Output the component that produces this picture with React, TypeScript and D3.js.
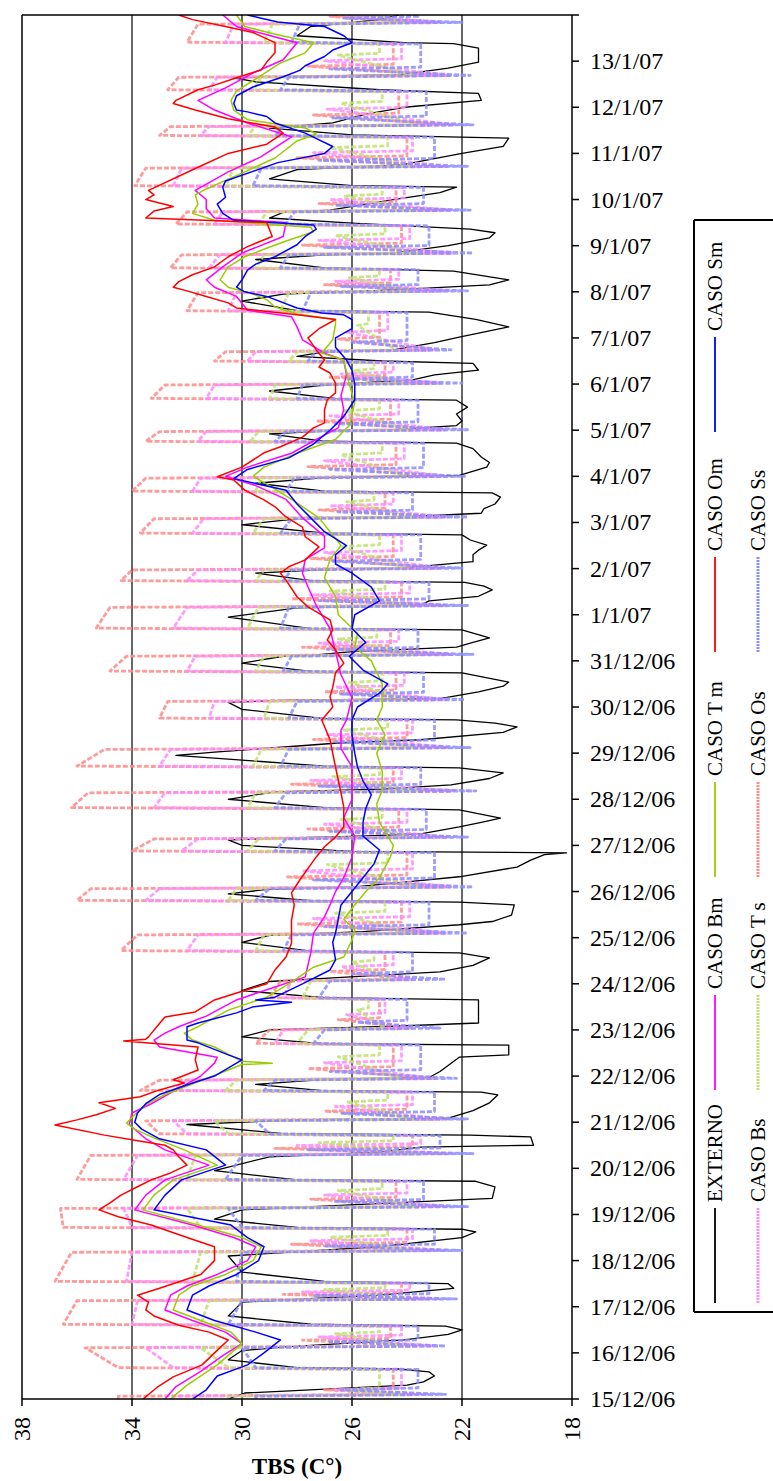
import React from "react";
import * as d3 from "d3";

// ---- data (days since 15/12/06 00:00, TBS in °C) ----
const externo: [number, number][] = [[0.00,30.5],[0.13,29.9],[0.30,24.0],[0.37,23.4],[0.50,23.0],[0.59,23.2],[0.65,24.3],[0.68,28.0],[0.85,30.5],[1.05,30.0],[1.13,28.4],[1.28,24.1],[1.40,22.5],[1.50,22.0],[1.58,22.6],[1.62,27.5],[1.80,30.5],[2.10,30.0],[2.25,25.0],[2.40,22.3],[2.50,22.5],[2.55,27.0],[2.75,30.0],[3.10,30.5],[3.30,25.0],[3.50,22.0],[3.62,21.5],[3.68,22.0],[3.72,28.0],[3.90,31.0],[4.10,30.0],[4.25,24.5],[4.35,20.9],[4.60,20.8],[4.72,21.5],[4.75,28.0],[4.95,31.0],[5.25,29.0],[5.35,25.0],[5.46,23.5],[5.50,19.4],[5.68,19.5],[5.72,21.7],[5.75,28.5],[5.95,32.0],[6.05,28.0],[6.09,22.5],[6.25,21.6],[6.42,21.0],[6.59,20.7],[6.65,21.3],[6.68,27.0],[6.82,29.5],[6.93,27.0],[6.97,23.2],[7.10,22.8],[7.41,22.1],[7.46,20.3],[7.67,20.3],[7.70,27.0],[7.85,30.0],[8.00,29.0],[8.08,24.5],[8.15,21.4],[8.65,21.4],[8.70,27.0],[8.85,30.0],[9.05,29.0],[9.13,26.7],[9.26,22.8],[9.40,21.6],[9.56,21.0],[9.67,22.1],[9.71,27.5],[9.90,30.0],[10.05,29.0],[10.13,25.6],[10.28,22.1],[10.35,20.9],[10.49,20.2],[10.71,20.1],[10.77,22.1],[10.80,27.5],[10.95,30.5],[11.05,29.0],[11.10,25.9],[11.20,24.2],[11.32,22.1],[11.53,20.0],[11.68,19.5],[11.80,19.0],[11.84,18.2],[11.87,26.0],[12.00,30.0],[12.12,30.5],[12.16,28.2],[12.20,25.7],[12.25,23.5],[12.40,22.1],[12.50,21.3],[12.59,20.6],[12.77,22.1],[12.82,27.0],[13.00,30.5],[13.16,28.8],[13.22,24.9],[13.31,22.4],[13.45,21.0],[13.57,20.5],[13.68,22.1],[13.72,27.0],[13.95,32.4],[14.02,31.0],[14.22,26.5],[14.29,23.5],[14.45,20.5],[14.57,20.0],[14.65,20.8],[14.72,22.2],[14.75,27.0],[14.95,30.0],[15.10,30.5],[15.15,28.2],[15.18,22.8],[15.33,21.4],[15.45,20.5],[15.54,20.3],[15.74,22.0],[15.77,27.5],[15.95,30.0],[16.10,28.5],[16.13,27.3],[16.20,26.0],[16.30,22.2],[16.40,21.6],[16.50,21.0],[16.60,21.6],[16.67,22.0],[16.70,27.5],[16.95,30.5],[17.15,28.0],[17.21,23.5],[17.30,23.2],[17.40,21.4],[17.54,20.9],[17.62,21.2],[17.70,21.9],[17.74,27.5],[17.90,29.5],[17.98,27.0],[18.01,24.4],[18.05,23.5],[18.15,21.6],[18.30,21.6],[18.40,21.4],[18.51,21.1],[18.62,21.7],[18.73,22.0],[18.77,27.0],[18.95,30.0],[19.08,28.0],[19.12,24.2],[19.20,21.3],[19.30,21.2],[19.40,20.8],[19.55,20.6],[19.64,20.9],[19.68,27.0],[19.85,29.5],[19.97,27.0],[20.00,24.8],[20.02,22.1],[20.20,21.1],[20.30,21.0],[20.42,21.3],[20.60,21.6],[20.72,22.2],[20.76,27.0],[20.92,29.0],[20.98,27.0],[21.00,24.8],[21.10,22.2],[21.20,22.0],[21.35,22.2],[21.50,21.8],[21.65,22.2],[21.68,26.5],[21.85,29.0],[21.98,27.0],[22.09,23.8],[22.20,23.0],[22.30,21.4],[22.45,21.6],[22.50,24.9],[22.60,28.0],[22.70,27.0],[22.74,24.5],[22.90,23.0],[23.02,22.1],[23.24,20.3],[23.40,21.5],[23.56,23.2],[23.59,28.0],[23.80,30.0],[23.95,28.5],[24.04,24.5],[24.15,21.0],[24.26,20.3],[24.45,22.3],[24.52,27.0],[24.70,29.5],[24.80,27.0],[24.84,24.5],[25.00,22.5],[25.17,21.0],[25.28,20.8],[25.36,21.7],[25.49,26.0],[25.60,29.0],[25.72,28.5],[25.77,26.8],[26.00,24.5],[26.15,22.8],[26.27,22.2],[26.30,26.0],[26.45,29.0],[26.65,28.0],[26.75,24.2],[27.00,22.0],[27.15,20.5],[27.33,20.3],[27.40,26.0],[27.55,29.0],[27.66,26.7],[27.85,25.5],[28.00,24.1],[28.15,21.3],[28.30,21.4],[28.38,25.0],[28.55,29.5],[28.64,30.3],[28.68,27.0],[28.70,24.3],[28.85,22.5],[28.98,21.4],[29.28,21.4],[29.38,22.3],[29.40,24.1],[29.55,28.0],[29.75,27.5],[29.90,25.0],[30.00,24.3]];

const casoOm: [number, number][] = [[0,33.6],[0.27,33.05],[0.48,32.5],[0.74,31.45],[1.0,31.0],[1.28,30.5],[1.45,31.2],[1.6,32.3],[1.8,33.2],[1.93,33.5],[2.1,33.4],[2.25,33.8],[2.4,33.0],[2.7,31.5],[3.0,31.0],[3.3,31.0],[3.5,32.0],[3.77,33.3],[3.95,34.5],[4.1,35.2],[4.25,34.8],[4.42,34.4],[4.6,33.8],[4.75,33.3],[4.9,32.6],[5.07,32.0],[5.25,32.3],[5.4,32.5],[5.5,32.8],[5.61,33.9],[5.72,35.0],[5.94,36.8],[6.05,36.0],[6.16,35.3],[6.3,34.6],[6.42,35.2],[6.55,33.7],[6.7,33.0],[6.85,32.1],[6.92,32.5],[7.13,31.6],[7.35,31.7],[7.63,31.6],[7.72,33.5],[7.76,34.3],[7.8,33.5],[7.85,33.4],[8.07,33.1],[8.28,32.8],[8.39,31.7],[8.65,31.0],[8.8,30.2],[9.0,29.1],[9.3,28.8],[9.58,28.4],[9.88,28.2],[10.38,28.2],[10.71,28.1],[10.97,28.2],[11.25,27.9],[11.75,27.3],[11.97,27.0],[12.18,26.6],[12.4,26.3],[12.83,26.3],[13.14,26.4],[13.7,26.6],[14.29,26.8],[14.72,27.1],[15.0,26.7],[15.22,26.8],[15.43,26.7],[15.74,26.6],[15.95,26.3],[16.24,26.6],[16.45,26.9],[16.67,26.7],[16.89,26.8],[17.17,27.6],[17.39,28.0],[17.75,28.4],[17.9,28.6],[18.04,28.3],[18.19,27.7],[18.47,27.2],[18.69,27.7],[18.9,27.8],[19.12,28.4],[19.34,28.8],[19.49,29.2],[19.7,29.9],[19.92,30.3],[19.99,30.9],[20.2,30.0],[20.51,29.2],[20.64,28.6],[20.85,27.8],[21.05,27.4],[21.16,27.0],[21.44,27.0],[21.66,26.9],[21.81,26.6],[22.02,26.6],[22.24,26.8],[22.37,27.2],[22.52,27.0],[22.74,27.3],[23.0,27.6],[23.2,27.2],[23.4,26.6],[23.5,28.0],[23.65,30.2],[23.76,30.5],[23.9,31.3],[24.02,32.0],[24.1,32.5],[24.22,32.3],[24.37,31.8],[24.54,31.0],[24.76,30.5],[24.98,29.8],[25.2,28.9],[25.5,29.1],[25.6,33.5],[25.75,33.2],[25.85,32.5],[26.0,33.5],[26.1,33.2],[26.2,33.4],[26.7,31.6],[27.0,30.5],[27.2,29.1],[27.44,28.5],[27.57,28.8],[27.75,30.5],[27.94,31.7],[28.08,32.5],[28.15,32.4],[28.38,31.6],[28.48,31.0],[28.64,30.2],[28.81,29.3],[28.98,29.1],[29.18,28.8],[29.4,28.8],[29.62,29.6],[29.75,30.6],[29.9,31.8],[30.0,32.3]];

const casoBm: [number, number][] = [[0,32.8],[0.27,32.4],[0.6,31.5],[0.94,30.7],[1.2,30.0],[1.45,30.6],[1.7,31.8],[1.93,32.8],[2.25,32.6],[2.45,32.0],[2.7,30.9],[3.0,29.8],[3.3,29.5],[3.5,30.3],[3.77,31.8],[4.1,33.9],[4.42,33.5],[4.75,32.8],[5.07,31.2],[5.4,32.8],[5.64,33.5],[5.95,34.1],[6.2,34.0],[6.4,33.3],[6.7,32.4],[7.0,31.5],[7.28,31.0],[7.41,30.9],[7.63,33.0],[7.78,33.2],[7.93,32.8],[8.07,32.3],[8.3,31.3],[8.65,30.2],[8.87,29.1],[9.15,27.7],[9.67,27.5],[10.1,27.4],[10.45,27.0],[10.71,26.8],[11.0,26.6],[11.3,26.3],[11.75,26.0],[12.2,25.9],[12.6,26.3],[13.0,26.0],[13.4,26.0],[13.7,26.0],[14.1,26.4],[14.5,26.4],[14.72,26.2],[15.2,26.0],[15.7,26.4],[16.2,26.6],[16.7,26.8],[17.2,27.3],[17.6,27.6],[17.9,27.8],[18.2,27.7],[18.45,27.0],[18.7,27.0],[19.1,27.8],[19.5,28.4],[19.8,29.5],[20.0,30.6],[20.2,29.8],[20.5,28.2],[20.8,27.3],[21.05,26.5],[21.44,26.3],[21.75,26.4],[22.2,26.2],[22.52,26.3],[22.67,27.0],[22.96,27.8],[23.24,28.0],[23.46,28.2],[23.6,29.8],[23.9,30.2],[24.1,31.0],[24.26,31.3],[24.54,30.7],[24.84,30.0],[25.2,28.5],[25.5,28.4],[25.6,31.0],[25.8,31.3],[26.0,31.3],[26.2,31.7],[26.6,30.5],[26.93,29.3],[27.36,28.2],[27.66,29.8],[27.94,31.0],[28.15,31.6],[28.42,30.6],[28.74,29.6],[29.03,28.5],[29.4,28.0],[29.57,29.1],[29.75,30.2],[30.0,30.7]];

const casoTm: [number, number][] = [[0,32.6],[0.3,32.0],[0.74,30.9],[1.2,30.0],[1.45,30.4],[1.7,31.5],[1.93,32.5],[2.25,32.3],[2.45,31.8],[2.7,30.6],[3.0,29.6],[3.3,29.3],[3.5,30.0],[3.77,31.6],[4.1,33.6],[4.42,33.2],[4.75,32.5],[5.07,30.9],[5.4,32.1],[5.66,33.2],[5.85,33.9],[5.98,34.2],[6.16,33.9],[6.38,33.5],[6.6,32.8],[6.9,31.5],[7.13,30.5],[7.25,30.0],[7.28,28.9],[7.32,30.0],[7.63,31.0],[7.78,31.8],[7.93,32.1],[8.07,31.6],[8.43,30.5],[8.71,29.1],[9.0,28.3],[9.36,27.4],[9.58,26.3],[9.95,26.0],[10.17,25.9],[10.4,26.3],[10.71,25.9],[11.0,25.5],[11.3,25.0],[11.75,24.6],[12.0,24.5],[12.5,25.0],[12.9,25.1],[13.2,24.9],[13.6,24.9],[14.0,25.1],[14.4,24.8],[14.72,25.1],[15.0,24.9],[15.5,24.9],[16.0,25.3],[16.3,25.9],[16.6,25.8],[17.0,26.5],[17.4,26.6],[17.8,27.0],[18.2,26.8],[18.5,26.4],[18.8,26.8],[19.1,27.2],[19.5,28.2],[19.8,29.0],[20.0,29.6],[20.2,29.2],[20.5,28.0],[20.8,26.6],[21.1,26.1],[21.6,25.9],[22.0,26.1],[22.52,26.3],[22.67,27.1],[22.96,26.7],[23.3,26.6],[23.4,26.6],[23.52,28.0],[23.67,28.8],[23.83,29.1],[23.95,29.6],[24.1,30.5],[24.26,30.8],[24.54,30.5],[24.76,29.9],[24.9,29.3],[25.08,28.5],[25.3,27.4],[25.4,27.5],[25.55,31.0],[25.7,31.8],[25.9,31.6],[26.1,31.7],[26.2,31.4],[26.6,29.9],[26.9,28.8],[27.27,28.0],[27.42,27.3],[27.55,27.7],[27.73,29.8],[27.94,30.3],[28.15,30.4],[28.35,30.2],[28.5,29.8],[28.96,28.6],[29.18,27.7],[29.4,27.4],[29.6,28.9],[29.75,29.9],[30.0,30.2]];

const casoSm: [number, number][] = [[0,31.8],[0.2,31.3],[0.5,30.9],[0.74,29.8],[1.0,29.2],[1.28,28.6],[1.45,29.5],[1.7,31.0],[1.93,32.0],[2.25,31.8],[2.45,31.2],[2.7,30.2],[3.0,29.4],[3.3,29.2],[3.5,29.8],[3.77,30.4],[4.1,33.2],[4.42,32.8],[4.75,32.2],[5.07,30.6],[5.4,31.3],[5.64,33.0],[5.85,33.65],[6.0,33.9],[6.2,33.8],[6.4,33.5],[6.6,33.0],[6.85,31.8],[7.0,31.0],[7.35,30.0],[7.46,30.5],[7.72,31.6],[7.78,32.0],[8.07,32.0],[8.15,31.6],[8.37,30.2],[8.5,29.6],[8.6,28.2],[8.65,29.5],[8.71,28.8],[9.0,27.8],[9.3,26.8],[9.52,26.6],[9.9,26.7],[10.1,26.6],[10.71,26.4],[11.0,26.0],[11.3,25.6],[11.6,25.2],[11.9,25.0],[12.2,25.6],[12.5,25.6],[12.8,25.5],[13.1,25.3],[13.4,25.6],[13.7,25.8],[14.0,25.9],[14.4,26.0],[14.72,26.0],[15.0,25.8],[15.3,25.0],[15.5,24.7],[15.8,25.6],[16.1,26.1],[16.4,25.5],[16.7,26.0],[17.0,25.9],[17.3,25.0],[17.6,25.3],[17.9,26.0],[18.1,26.6],[18.3,26.6],[18.5,26.2],[18.8,27.0],[19.1,27.5],[19.4,28.0],[19.7,28.4],[19.95,30.3],[20.15,29.8],[20.4,28.3],[20.7,27.4],[21.0,26.8],[21.3,26.3],[21.66,25.9],[22.0,25.9],[22.3,26.0],[22.52,26.2],[22.8,26.6],[23.0,26.6],[23.2,26.0],[23.4,26.0],[23.5,26.3],[23.54,27.1],[23.65,28.0],[23.9,29.1],[24.0,29.9],[24.1,30.2],[24.26,30.0],[24.47,29.8],[24.6,29.5],[24.76,28.8],[25.02,28.0],[25.2,27.7],[25.36,27.3],[25.45,27.4],[25.55,30.3],[25.7,30.7],[25.9,30.9],[26.05,30.6],[26.27,30.7],[26.4,30.6],[26.8,28.7],[27.0,27.0],[27.15,26.7],[27.44,27.7],[27.66,28.8],[27.8,29.1],[27.9,29.8],[27.94,30.2],[28.08,30.3],[28.25,30.2],[28.44,29.6],[28.66,28.5],[28.8,27.9],[28.9,27.7],[29.1,27.0],[29.24,26.7],[29.4,26.0],[29.55,26.3],[29.75,27.0],[29.85,28.7],[29.93,29.3],[30.0,29.8]];

// Dashed cases: warm period each day (shared rise / fall times), then an evening drop,
// a night bump and the night level
const dashRise = [0.66,1.60,2.53,3.70,4.74,5.73,6.67,7.69,8.68,9.70,10.79,11.86,12.80,13.70,14.74,15.76,16.69,17.72,18.75,19.66,20.74,21.67,22.48,23.57,24.50,25.45,26.28,27.37,28.36,29.39];
const dashFall = [1.13,2.15,3.20,4.15,5.30,6.05,6.93,8.02,9.08,10.08,11.08,12.16,13.16,14.10,15.14,16.12,17.18,17.99,19.10,19.98,20.99,22.00,22.72,24.00,24.82,25.75,26.70,27.60,28.67,29.82];

const osHead = [34.5, 23.8, 27.0, 24.5];
const osPeakA = [34.5,36.5,36.8,36.5,36.0,33.0,33.7,29.5,29.0,34.4,36.0,34.0,36.2,36.0,33.0,34.8,35.3,34.4,33.7,34.0,33.5,33.3,31.0,32.0,32.6,32.4,33.9,33.0,32.7,32.0];
const osPeakB = [35.7,36.0,36.2,36.6,35.5,33.5,33.0,29.0,28.6,33.8,35.5,33.2,35.6,35.0,32.7,34.2,34.8,34.0,33.2,33.5,33.0,32.8,30.6,31.6,32.2,32.0,33.5,32.6,32.3,31.6];
const osEve = [23.6,23.2,23.0,22.8,22.6,22.4,23.0,23.8,24.0,22.8,22.6,22.5,22.4,22.6,22.8,22.5,22.7,22.9,22.6,22.8,22.7,22.9,23.2,22.6,22.4,22.5,22.6,22.4,22.5,23.0];
const osMid = [27.8,28.5,28.2,27.5,28.8,27.0,27.6,26.5,26.8,28.0,28.4,27.6,28.2,27.4,27.0,27.8,28.2,27.5,27.2,27.6,27.3,26.8,26.5,27.0,27.8,27.2,28.0,27.4,27.6,26.8];
const osLow = [24.6,24.2,24.0,24.4,23.8,24.0,24.5,25.0,24.8,24.2,24.0,24.3,24.5,24.0,24.4,24.6,24.2,24.5,24.8,24.4,24.6,24.8,25.0,24.6,24.2,24.4,24.0,24.3,24.5,24.6];

const bsHead = [32.5, 23.2, 26.6, 24.2];
const bsPeakA = [32.5,34.0,34.2,34.0,34.3,32.0,32.5,28.8,28.5,32.0,33.5,32.2,33.2,33.0,31.2,32.0,32.5,32.0,31.8,31.8,31.6,31.3,29.8,30.5,31.2,31.0,32.5,31.5,31.2,30.6];
const bsPeakB = [33.5,33.8,34.0,34.3,33.8,32.5,32.0,28.5,28.2,31.6,33.0,31.6,32.8,32.6,31.0,31.7,32.0,31.6,31.4,31.5,31.3,31.0,29.5,30.2,30.8,30.7,32.2,31.2,30.9,30.3];
const bsEve = [23.0,22.8,22.6,22.5,22.4,22.8,23.2,24.0,23.8,22.6,22.4,22.6,22.3,22.5,22.6,22.4,22.6,22.7,22.5,22.6,22.6,22.8,23.0,22.5,22.3,22.4,22.5,22.3,22.4,22.8];
const bsMid = [27.2,27.8,27.5,27.0,28.0,26.6,27.0,26.2,26.4,27.4,27.8,27.0,27.5,26.9,26.6,27.2,27.5,27.0,26.8,27.0,26.8,26.4,26.2,26.6,27.2,26.8,27.4,26.9,27.0,26.5];
const bsLow = [24.2,23.9,23.8,24.0,23.5,23.8,24.2,24.8,24.5,23.9,23.8,24.0,24.2,23.8,24.1,24.3,23.9,24.2,24.5,24.1,24.3,24.5,24.7,24.3,23.9,24.1,23.8,24.0,24.2,24.3];

const tsHead = [30.5, 24.2, 26.2, 25.0];
const tsPeakA = [30.5,31.5,31.8,31.5,32.0,30.5,30.6,28.0,27.8,29.5,30.5,29.8,29.8,29.6,29.2,29.5,29.8,29.5,29.6,29.5,29.7,29.0,28.3,28.6,29.5,29.4,30.6,29.8,29.6,29.2];
const tsPeakB = [31.5,31.2,31.5,32.0,31.7,31.0,30.2,27.6,27.5,29.2,30.2,29.4,29.5,29.3,29.0,29.2,29.4,29.2,29.2,29.3,29.4,28.8,28.0,28.3,29.2,29.1,30.3,29.5,29.3,28.9];
const tsEve = [24.2,24.0,23.8,23.6,23.5,23.8,24.2,24.8,24.6,23.8,23.6,23.8,23.6,23.8,24.0,23.7,23.9,24.0,23.8,24.0,23.9,24.1,24.4,23.8,23.6,23.7,23.8,23.6,23.7,24.0];
const tsMid = [26.6,27.0,26.8,26.5,27.2,26.2,26.5,25.8,26.0,26.6,26.9,26.4,26.7,26.3,26.1,26.5,26.8,26.4,26.2,26.4,26.3,26.0,25.8,26.1,26.6,26.3,26.8,26.4,26.5,26.0];
const tsLow = [25.0,24.8,24.7,24.9,24.5,24.7,25.0,25.4,25.2,24.8,24.7,24.9,25.0,24.7,24.9,25.1,24.8,25.0,25.2,24.9,25.0,25.2,25.4,25.0,24.8,24.9,24.7,24.9,25.0,25.1];

const ssHead = [29.5, 22.6, 26.4, 23.6];
const ssPeakA = [29.5,30.5,30.2,30.0,30.6,29.0,29.2,27.4,27.2,28.5,29.5,28.8,28.8,28.6,28.3,28.5,28.6,28.5,28.6,28.4,28.8,28.0,27.6,27.8,28.6,28.4,29.6,28.8,28.6,28.2];
const ssPeakB = [30.0,30.0,30.0,30.5,30.0,29.5,28.8,27.0,26.8,28.2,29.0,28.4,28.4,28.3,28.0,28.2,28.3,28.2,28.2,28.1,28.4,27.8,27.3,27.5,28.3,28.1,29.3,28.5,28.3,27.9];
const ssEve = [22.6,22.2,22.0,21.8,21.6,21.8,22.2,22.8,22.6,21.8,21.6,21.8,21.5,21.7,21.9,21.6,21.8,22.0,21.8,21.9,21.8,22.0,22.4,21.8,21.6,21.7,21.8,21.6,21.7,22.0];
const ssMid = [26.8,27.4,27.0,26.6,27.6,26.4,26.8,25.8,26.0,27.0,27.4,26.8,27.2,26.6,26.4,26.9,27.2,26.7,26.5,26.8,26.6,26.2,26.0,26.4,27.0,26.6,27.2,26.7,26.8,26.3];
const ssLow = [23.6,23.2,23.0,23.4,22.8,23.0,23.5,24.0,23.8,23.2,23.0,23.3,23.5,23.0,23.4,23.6,23.2,23.5,23.8,23.4,23.6,23.8,24.0,23.6,23.2,23.4,23.0,23.3,23.5,23.6];

const tempTicks = [38, 34, 30, 26, 22, 18];
const gridTemps = [34, 30, 26, 22];

// ---- layout ----
const W = 773;
const H = 1481;
const plot = { left: 22, right: 572, top: 15, bottom: 1399 };
const serif = "'Liberation Serif', 'Times New Roman', serif";

const start = new Date(2006, 11, 15);
const end = new Date(2007, 0, 14);
const DAY = 864e5;
const toDate = (t: number) => new Date(start.getTime() + t * DAY);

const x = d3.scaleLinear().domain([38, 18]).range([plot.left, plot.right]);
const y = d3.scaleTime().domain([start, end]).range([plot.bottom, plot.top]);

const line = d3
  .line<[number, number]>()
  .x((d) => x(d[1]))
  .y((d) => y(toDate(d[0])));

// knots of a dashed case; `bumpAt` places the night bump within the night interval
function dashKnots(head: number[], pA: number[], pB: number[], eve: number[], mid: number[], low: number[], bumpAt: number) {
  const k: [number, number][] = [[0, head[0]], [0.06, head[0]], [0.1, head[1]], [0.2, head[2]], [0.24, head[3]]];
  let prevLow = head[3];
  dashRise.forEach((r, d) => {
    const f = dashFall[d];
    const next = d + 1 < dashRise.length ? dashRise[d + 1] : 30.3;
    const tb = f + 0.04 + (next - f - 0.12) * bumpAt;
    k.push([r - 0.02, prevLow], [r + 0.02, pA[d]], [f - 0.02, pB[d]], [f + 0.02, eve[d]], [tb, mid[d]], [tb + 0.04, low[d]]);
    prevLow = low[d];
  });
  k.push([30, prevLow]);
  return k;
}

const casoOs = dashKnots(osHead, osPeakA, osPeakB, osEve, osMid, osLow, 0.3);
const casoBs = dashKnots(bsHead, bsPeakA, bsPeakB, bsEve, bsMid, bsLow, 0.5);
const casoTs = dashKnots(tsHead, tsPeakA, tsPeakB, tsEve, tsMid, tsLow, 0.7);
const casoSs = dashKnots(ssHead, ssPeakA, ssPeakB, ssEve, ssMid, ssLow, 0.2);

const DASH = "5 2";
type Series = { name: string; data: [number, number][]; color: string; dashed: boolean };
const series: Series[] = [
  { name: "EXTERNO", data: externo, color: "#000000", dashed: false },
  { name: "CASO Os", data: casoOs, color: "#ff8a8a", dashed: true },
  { name: "CASO Bs", data: casoBs, color: "#ff8cff", dashed: true },
  { name: "CASO T s", data: casoTs, color: "#c2df72", dashed: true },
  { name: "CASO Ss", data: casoSs, color: "#8c8cff", dashed: true },
  { name: "CASO Bm", data: casoBm, color: "#ff00ff", dashed: false },
  { name: "CASO T m", data: casoTm, color: "#99cc00", dashed: false },
  { name: "CASO Sm", data: casoSm, color: "#0000ff", dashed: false },
  { name: "CASO Om", data: casoOm, color: "#ff0000", dashed: false },
];

// legend: two columns of rotated entries, read bottom to top
const legendCol1 = ["EXTERNO", "CASO Bm", "CASO T m", "CASO Om", "CASO Sm"];
const legendCol2 = ["CASO Bs", "CASO T s", "CASO Os", "CASO Ss"];
const legendSlots = [1303, 1090, 877, 652, 432];
const legendX = [715, 758];
const swatchLen = 95;

export default function App() {
  const dayTicks = d3.timeDay.range(start, new Date(end.getTime() + 3600e3));
  const fmt = d3.timeFormat("%-d/%-m/%y");
  const byName = (n: string) => series.find((s) => s.name === n)!;

  return (
    <svg width={W} height={H} style={{ position: "absolute", left: 0, top: 0, background: "#fff" }}>
      <defs>
        <clipPath id="plotClip">
          <rect x={plot.left} y={plot.top} width={plot.right - plot.left} height={plot.bottom - plot.top} />
        </clipPath>
      </defs>
      <rect x={0} y={0} width={W} height={H} fill="#fff" />

      {/* gridlines */}
      {gridTemps.map((v) => (
        <line key={v} x1={x(v)} x2={x(v)} y1={plot.top} y2={plot.bottom} stroke="#000" strokeWidth={1.2} />
      ))}

      {/* series */}
      <g clipPath="url(#plotClip)" fill="none" strokeLinejoin="round">
        {series.map((s) => (
          <path
            key={s.name}
            d={line(s.data) || ""}
            stroke={s.color}
            strokeWidth={s.dashed ? 2.8 : s.name === "EXTERNO" ? 1.3 : 1.5}
            strokeDasharray={s.dashed ? DASH : undefined}
            opacity={s.dashed ? 0.85 : 1}
          />
        ))}
      </g>

      {/* frame */}
      <line x1={plot.left} x2={plot.left} y1={plot.top} y2={plot.bottom} stroke="#000" strokeWidth={1.5} />
      <line x1={plot.left} x2={plot.right} y1={plot.top} y2={plot.top} stroke="#000" strokeWidth={1.5} />

      {/* date axis (right) */}
      <line x1={plot.right} x2={plot.right} y1={plot.top} y2={plot.bottom} stroke="#000" strokeWidth={1.5} />
      {dayTicks.map((d, i) => (
        <g key={i}>
          <line x1={plot.right} x2={plot.right + 7} y1={y(d)} y2={y(d)} stroke="#000" strokeWidth={1.5} />
          {d < end && (
            <text x={590} y={y(d)} dominantBaseline="central" fontFamily={serif} fontSize={24} fill="#000">
              {fmt(d)}
            </text>
          )}
        </g>
      ))}

      {/* temperature axis (bottom) */}
      <line x1={plot.left} x2={plot.right} y1={plot.bottom} y2={plot.bottom} stroke="#000" strokeWidth={1.5} />
      {tempTicks.map((v) => (
        <g key={v}>
          <line x1={x(v)} x2={x(v)} y1={plot.bottom} y2={plot.bottom + 7} stroke="#000" strokeWidth={1.5} />
          <text
            transform={`translate(${x(v)},${plot.bottom + 18}) rotate(-90)`}
            textAnchor="end"
            dominantBaseline="central"
            fontFamily={serif}
            fontSize={24}
            fill="#000"
          >
            {v}
          </text>
        </g>
      ))}
      <text x={(plot.left + plot.right) / 2} y={1474} textAnchor="middle" fontFamily={serif} fontSize={23} fontWeight="bold" fill="#000">
        TBS (C°)
      </text>

      {/* legend */}
      <g>
        <line x1={694} x2={694} y1={220} y2={1312} stroke="#000" strokeWidth={2} />
        <line x1={694} x2={W + 2} y1={220} y2={220} stroke="#000" strokeWidth={2} />
        <line x1={694} x2={W + 2} y1={1312} y2={1312} stroke="#000" strokeWidth={2} />
        {[legendCol1, legendCol2].map((col, ci) =>
          col.map((name, i) => {
            const s = byName(name);
            const cx = legendX[ci];
            const y0 = legendSlots[i];
            return (
              <g key={name}>
                <line
                  x1={cx}
                  x2={cx}
                  y1={y0}
                  y2={y0 - swatchLen}
                  stroke={s.color}
                  strokeWidth={s.dashed ? 3 : 1.8}
                  strokeDasharray={s.dashed ? "2 1" : undefined}
                />
                <text
                  transform={`translate(${cx},${y0 - swatchLen - 6}) rotate(-90)`}
                  dominantBaseline="central"
                  fontFamily={serif}
                  fontSize={21}
                  fill="#000"
                >
                  {name}
                </text>
              </g>
            );
          })
        )}
      </g>
    </svg>
  );
}
